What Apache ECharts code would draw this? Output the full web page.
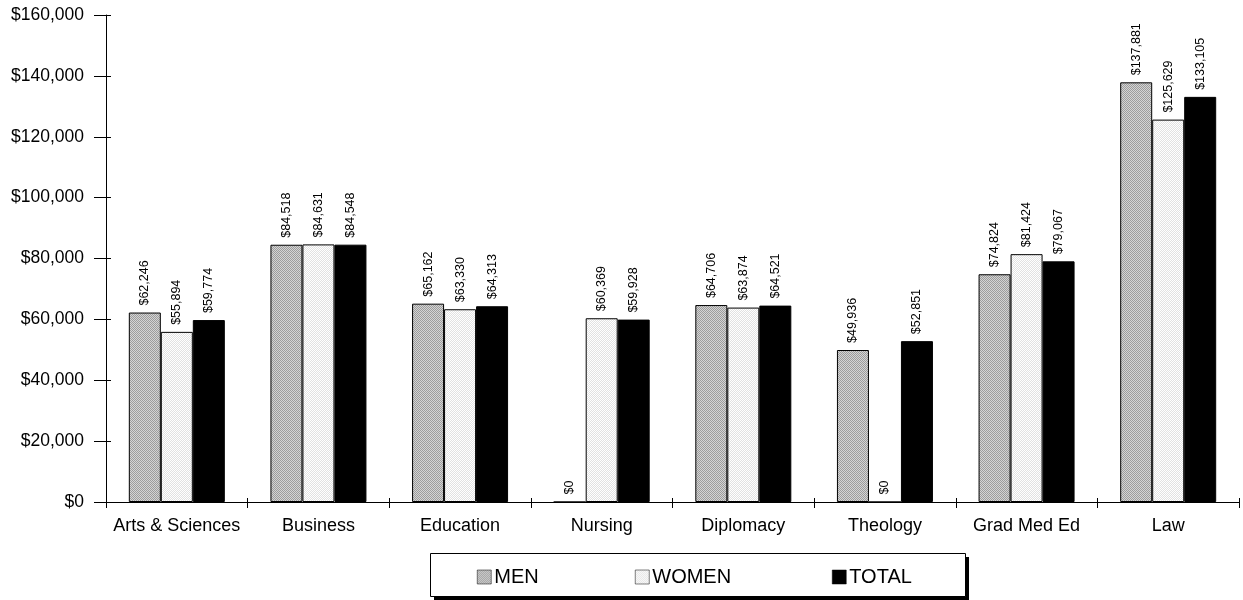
<!DOCTYPE html>
<html><head><meta charset="utf-8">
<script src="https://cdn.jsdelivr.net/npm/echarts@6/dist/echarts.min.js"></script>
<style>html,body{margin:0;padding:0;background:#fff}#c{width:1243px;height:600px}</style>
</head><body><div id="c"></div>
<script>
const categories = ['Arts & Sciences','Business','Education','Nursing','Diplomacy','Theology','Grad Med Ed','Law'];
const men = [62246, 84518, 65162, 0, 64706, 49936, 74824, 137881];
const women = [55894, 84631, 63330, 60369, 63874, 0, 81424, 125629];
const total = [59774, 84548, 64313, 59928, 64521, 52851, 79067, 133105];
const seriesNames = ['MEN','WOMEN','TOTAL'];

function pattern(a, b) {
  const c = document.createElement('canvas');
  c.width = 2; c.height = 2;
  const x = c.getContext('2d');
  x.fillStyle = b; x.fillRect(0,0,2,2);
  x.fillStyle = a; x.fillRect(0,0,1,1); x.fillRect(1,1,1,1);
  return {image: c, repeat: 'repeat'};
}
const menFill = pattern('#9c9c9c', '#d4d4d4');
const womenFill = pattern('#ffffff', '#e2e2e2');

const fmt = v => '$' + v.toLocaleString('en-US');
const font = 'Arial, "Liberation Sans", sans-serif';

const G = {left: 106, right: 4, top: 15, bottom: 98};
const W = 1243 - G.left - G.right, H = 600 - G.top - G.bottom;

function mk(name, data, fill) {
  return {
    name, type: 'bar', data, barWidth: 32, barGap: '0%',
    itemStyle: {color: fill, borderColor: '#000', borderWidth: 1},
    label: {show: true, position: 'top', rotate: 90, align: 'left', verticalAlign: 'middle',
      distance: 7, formatter: p => fmt(p.value), fontFamily: font, fontSize: 12.5, color: '#000'}
  };
}
const legendLefts = [472, 630, 827];
const legends = seriesNames.map((n, i) => ({
  data: [n], left: legendLefts[i], top: 562, itemWidth: 14, itemHeight: 14, padding: 5,
  icon: 'rect', textStyle: {fontFamily: font, fontSize: 20, color: '#000', padding: [0,0,0,-2]},
  itemStyle: {borderColor: '#000', borderWidth: 0.5}, selectedMode: false
}));

const chart = echarts.init(document.getElementById('c'), null, {renderer: 'canvas'});
chart.setOption({
  animation: false,
  backgroundColor: '#fff',
  grid: Object.assign({containLabel: false}, G),
  xAxis: [
    {type: 'category', data: categories, position: 'bottom',
      axisLine: {lineStyle: {color: '#000', width: 1}},
      axisTick: {show: true, length: 6, lineStyle: {color: '#000'}},
      axisLabel: {color: '#000', fontFamily: font, fontSize: 18, margin: 15, interval: 0, hideOverlap: false}},
    {type: 'category', data: categories, position: 'top', offset: -H,
      axisLine: {show: false},
      axisTick: {show: true, length: 4, lineStyle: {color: '#000'}},
      axisLabel: {show: false}}
  ],
  yAxis: [
    {type: 'value', min: 0, max: 160000, interval: 20000, position: 'left',
      axisLine: {show: true, lineStyle: {color: '#000'}},
      axisTick: {show: true, length: 12, lineStyle: {color: '#000'}},
      splitLine: {show: false},
      axisLabel: {color: '#000', fontFamily: font, fontSize: 17.5, margin: 22, formatter: v => fmt(v)}},
    {type: 'value', min: 0, max: 160000, interval: 20000, position: 'right', offset: -W,
      axisLine: {show: false},
      axisTick: {show: true, length: 5, lineStyle: {color: '#000'}},
      splitLine: {show: false}, axisLabel: {show: false}}
  ],
  legend: legends,
  graphic: [
    {type: 'rect', shape: {x: 434, y: 557, width: 535, height: 44}, style: {fill: '#000'}, z: 0},
    {type: 'rect', shape: {x: 430.5, y: 553.5, width: 535, height: 43}, style: {fill: '#fff', stroke: '#000', lineWidth: 1}, z: 1}
  ],
  series: [mk('MEN', men, menFill), mk('WOMEN', women, womenFill), mk('TOTAL', total, '#000')]
});
</script></body></html>
